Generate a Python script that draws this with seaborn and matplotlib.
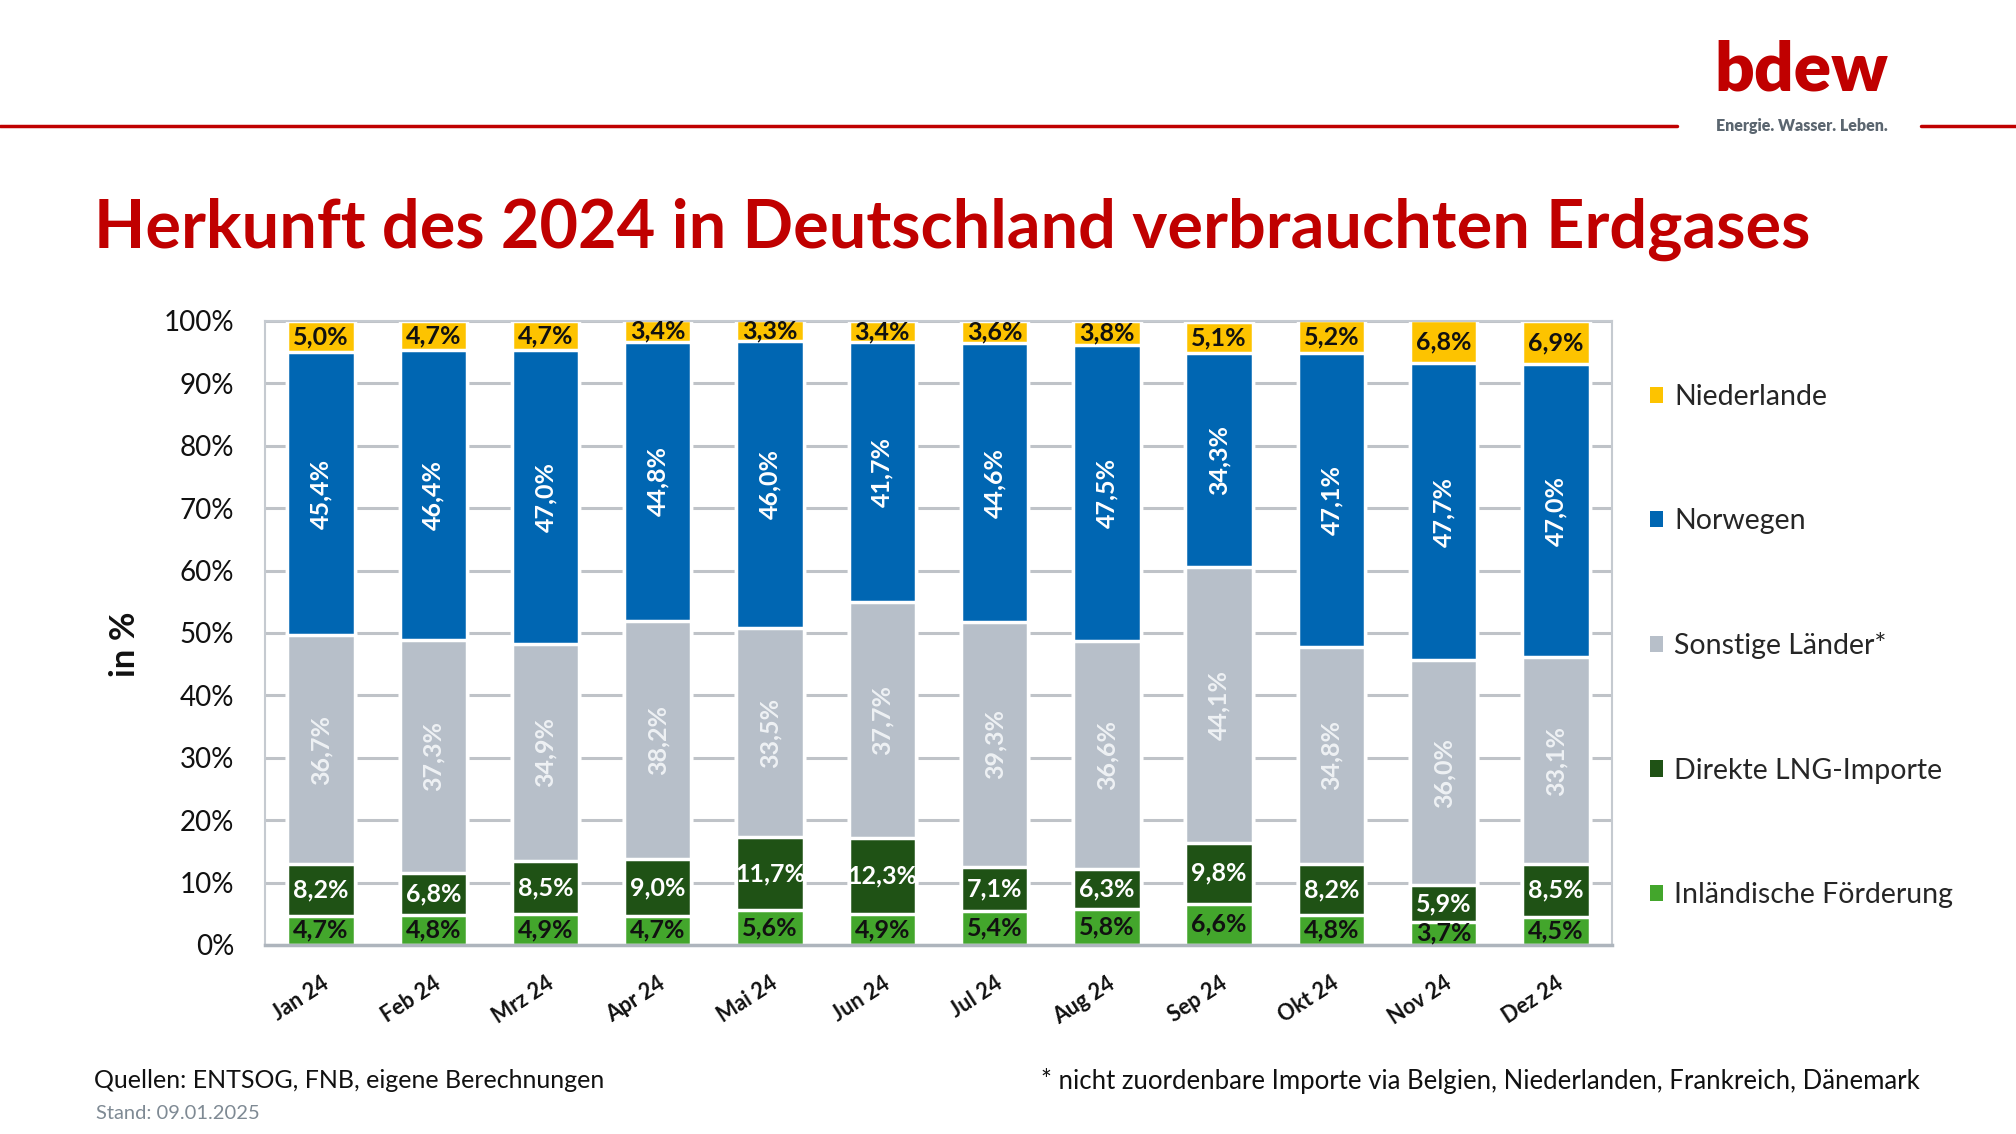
import matplotlib

matplotlib.use("Agg")

import matplotlib.pyplot as plt
import numpy as np
import seaborn as sns
from matplotlib.lines import Line2D
from matplotlib.patches import Patch


MONTHS = ["Jan 24", "Feb 24", "Mrz 24", "Apr 24", "Mai 24", "Jun 24",
          "Jul 24", "Aug 24", "Sep 24", "Okt 24", "Nov 24", "Dez 24"]

# bottom to top
SERIES = ["Inländische Förderung", "Direkte LNG-Importe", "Sonstige Länder*", "Norwegen", "Niederlande"]
inland = [4.7, 4.8, 4.9, 4.7, 5.6, 4.9, 5.4, 5.8, 6.6, 4.8, 3.7, 4.5]
lng = [8.2, 6.8, 8.5, 9.0, 11.7, 12.3, 7.1, 6.3, 9.8, 8.2, 5.9, 8.5]
sonstige = [36.7, 37.3, 34.9, 38.2, 33.5, 37.7, 39.3, 36.6, 44.1, 34.8, 36.0, 33.1]
norwegen = [45.4, 46.4, 47.0, 44.8, 46.0, 41.7, 44.6, 47.5, 34.3, 47.1, 47.7, 47.0]
niederlande = [5.0, 4.7, 4.7, 3.4, 3.3, 3.4, 3.6, 3.8, 5.1, 5.2, 6.8, 6.9]

COLORS = ["#43A62C", "#1F5215", "#B7BFC9", "#0066B2", "#FDC300"]
LABEL_STYLE = [
    dict(color="#111111", rotation=0),
    dict(color="white", rotation=0),
    dict(color="#EEF1F4", rotation=90),
    dict(color="white", rotation=90),
    dict(color="#111111", rotation=0),
]
RED = "#C00000"

sns.set_theme(style="white")
plt.rcParams["font.family"] = ["Lato", "DejaVu Sans"]

fig = plt.figure(figsize=(20.16, 11.34), dpi=100)
ax = fig.add_axes([0.1314, 0.1667, 0.6682, 0.5503])

values = np.vstack([inland, lng, sonstige, norwegen, niederlande])
stack = np.cumsum(values, axis=0)

# draw cumulative totals from top to bottom so lower segments overlap
for i in range(len(SERIES) - 1, -1, -1):
    sns.barplot(x=MONTHS, y=stack[i], color=COLORS[i], saturation=1, width=0.6,
                edgecolor="white", linewidth=2.5, ax=ax, zorder=2)

for i in range(len(SERIES)):
    centers = stack[i] - values[i] / 2
    for j, (c, v) in enumerate(zip(centers, values[i])):
        ax.text(j, min(c, 100 - v / 2 + 0.4) if i == 4 else c, f"{v:.1f}%".replace(".", ","),
                ha="center", va="center", fontsize=18, fontweight="bold",
                zorder=5, **LABEL_STYLE[i])

ax.set_ylim(0, 100)
ax.set_xlim(-0.5, 11.5)
ax.set_yticks(range(0, 101, 10))
ax.set_yticklabels([f"{t}%" for t in range(0, 101, 10)], fontsize=20)
ax.set_xticks(range(len(MONTHS)))
ax.set_xticklabels(MONTHS, rotation=33, ha="right", rotation_mode="anchor",
                   fontsize=15.5, fontweight="bold")
ax.tick_params(axis="y", length=0, pad=22, labelcolor="#111111")
ax.tick_params(axis="x", length=0, pad=20, labelcolor="#111111")
ax.set_axisbelow(True)
ax.yaxis.grid(True, color="#BFC3C8", linewidth=2.2, zorder=0)
ax.xaxis.grid(False)
for side, spine in ax.spines.items():
    spine.set_color("#C5CAD0")
    spine.set_linewidth(1.5)
ax.spines["bottom"].set_color("#AEB5BD")
ax.spines["bottom"].set_linewidth(2.5)
ax.set_xlabel("")
ax.set_ylabel("")

fig.text(0.062, 0.432, "in %", rotation=90, ha="center", va="center",
         fontsize=25, fontweight="bold", color="#111111")

# legend (top to bottom in reverse stacking order)
handles = [Patch(facecolor=COLORS[i], edgecolor="none") for i in range(len(SERIES) - 1, -1, -1)]
labels = [SERIES[i] for i in range(len(SERIES) - 1, -1, -1)]
fig.legend(handles, labels, loc="upper left", bbox_to_anchor=(0.8185, 0.6615),
           frameon=False, fontsize=20.5, handlelength=0.45, handleheight=0.5,
           handletextpad=0.4, labelspacing=3.45, borderpad=0, borderaxespad=0)

# header
fig.add_artist(Line2D([0, 0.832], [0.889, 0.889], color=RED, linewidth=2.5))
fig.add_artist(Line2D([0.953, 1.0], [0.889, 0.889], color=RED, linewidth=2.5))
fig.text(0.8505, 0.92, "bdew", ha="left", va="baseline", fontsize=50,
         fontweight="heavy", color=RED)
fig.text(0.851, 0.889, "Energie. Wasser. Leben.", ha="left", va="center",
         fontsize=11.5, fontweight="heavy", color="#5B6670")

fig.text(0.0466, 0.782, "Herkunft des 2024 in Deutschland verbrauchten Erdgases",
         ha="left", va="baseline", fontsize=48, fontweight="bold", color=RED)

# footer
fig.text(0.0466, 0.047, "Quellen: ENTSOG, FNB, eigene Berechnungen",
         ha="left", va="center", fontsize=18, color="#111111")
fig.text(0.9525, 0.047, "* nicht zuordenbare Importe via Belgien, Niederlanden, Frankreich, Dänemark",
         ha="right", va="center", fontsize=18.5, color="#111111")
fig.text(0.0476, 0.018, "Stand: 09.01.2025", ha="left", va="center",
         fontsize=14.5, color="#7F8A94")

fig.savefig("out.png", dpi=100)
plt.close(fig)
